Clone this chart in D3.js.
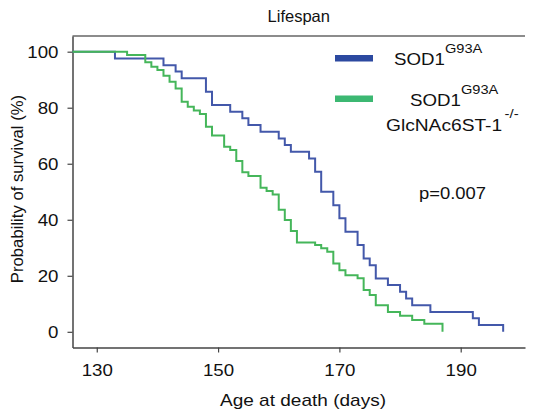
<!DOCTYPE html>
<html>
<head>
<meta charset="utf-8">
<script src="https://cdn.jsdelivr.net/npm/d3@7"></script>
<style>
  body { margin: 0; background: #fff; }
  text { font-family: 'Liberation Sans', Arial, sans-serif; fill: #111; }
</style>
</head>
<body>
<svg id="chart" width="540" height="411"></svg>
<script>
// survival steps (day, % surviving)
const blueDays = [126, 133, 141, 143, 144, 148, 149, 152, 154, 155, 157, 160, 161, 162, 165, 166, 167, 169, 170, 171, 173, 174, 175, 176, 178, 180, 181, 182, 185, 192, 193, 197];
const blueSurv = [100, 97.6, 95.2, 92.9, 90.5, 85.7, 81, 78.6, 76.2, 73.8, 71.4, 69, 66.7, 64.3, 61.9, 57.1, 50, 45.2, 40.5, 35.7, 31, 26.2, 23.8, 19, 16.7, 14.3, 11.9, 9.5, 7.1, 4.8, 2.4, 0];

const greenDays = [126, 135, 138, 139, 140, 141, 142, 143, 144, 145, 146, 147, 148, 149, 151, 152, 153, 154, 155, 157, 158, 159, 160, 161, 162, 163, 166, 167, 168, 169, 170, 171, 173, 174, 175, 176, 178, 180, 182, 184, 187];
const greenSurv = [100, 98.8, 96.2, 94.6, 93.5, 91.4, 89.3, 86.9, 82.1, 80.3, 79, 77.8, 73.2, 70.1, 66.1, 64.9, 61, 57, 55.6, 51.4, 50.3, 49, 43.6, 39.9, 36, 31.9, 31, 29.8, 28.6, 24.4, 22, 20.2, 19.1, 14.9, 13.1, 9.5, 7.1, 5.7, 4.2, 2.9, 0];

const xTicks = [130, 150, 170, 190];
const yTicks = [0, 20, 40, 60, 80, 100];

const blueColor = '#4358aa';
const greenColor = '#45b65a';

// the source figure is a bit wider than tall, so text is drawn stretched sideways
function stretch(sel, sx) {
  sel.each(function () {
    const t = d3.select(this);
    const x0 = +t.attr('x') || 0;
    t.attr('x', x0 / sx).attr('transform', `scale(${sx},1)`);
  });
}

const svg = d3.select('#chart');
const plotLeft = 72.5, plotRight = 525, plotTop = 36, plotBottom = 347.5;

const x = d3.scaleLinear().domain([126, 200.6]).range([plotLeft, plotRight]);
const y = d3.scaleLinear().domain([-5.6, 105.6]).range([plotBottom, plotTop]);

// frame top line
svg.append('line')
  .attr('x1', plotLeft).attr('x2', plotRight)
  .attr('y1', plotTop).attr('y2', plotTop)
  .attr('stroke', '#666').attr('stroke-width', 1.3);

const xAxis = svg.append('g')
  .attr('transform', `translate(0,${plotBottom})`)
  .call(d3.axisBottom(x).tickValues(xTicks).tickSize(5).tickPadding(11).tickSizeOuter(0));
const yAxis = svg.append('g')
  .attr('transform', `translate(${plotLeft},0)`)
  .call(d3.axisLeft(y).tickValues(yTicks).tickSize(5).tickPadding(9).tickSizeOuter(0));

for (const ax of [xAxis, yAxis]) {
  ax.select('.domain').attr('stroke', '#444').attr('stroke-width', 1.5);
  ax.selectAll('.tick line').attr('stroke', '#444').attr('stroke-width', 1.2);
  ax.selectAll('.tick text')
    .attr('font-size', 17)
    .attr('fill', '#111')
    .style('font-family', "'Liberation Sans', Arial, sans-serif")
    .call(stretch, 1.1);
}

const line = d3.line()
  .x(d => x(d[0]))
  .y(d => y(d[1]))
  .curve(d3.curveStepAfter);

svg.append('path')
  .datum(d3.zip(blueDays, blueSurv))
  .attr('fill', 'none')
  .attr('stroke', blueColor)
  .attr('stroke-width', 2)
  .attr('d', line);

svg.append('path')
  .datum(d3.zip(greenDays, greenSurv))
  .attr('fill', 'none')
  .attr('stroke', greenColor)
  .attr('stroke-width', 2)
  .attr('d', line);

// title and axis labels
svg.append('text')
  .attr('x', (plotLeft + plotRight) / 2).attr('y', 22)
  .attr('text-anchor', 'middle').attr('font-size', 16.5)
  .text('Lifespan');

svg.append('text')
  .attr('x', 303).attr('y', 406)
  .attr('text-anchor', 'middle').attr('font-size', 17)
  .text('Age at death (days)')
  .call(stretch, 1.12);

svg.append('text')
  .attr('transform', 'translate(23,189) rotate(-90)')
  .attr('text-anchor', 'middle').attr('font-size', 16.7)
  .text('Probability of survival (%)');

// legend
svg.append('rect')
  .attr('x', 335).attr('y', 55).attr('width', 38).attr('height', 6.5)
  .attr('fill', '#2c49a0');
svg.append('rect')
  .attr('x', 335).attr('y', 95.5).attr('width', 38).attr('height', 6.5)
  .attr('fill', '#3cb872');

const leg1 = svg.append('text').attr('x', 394).attr('y', 65).attr('font-size', 16);
leg1.append('tspan').text('SOD1');
leg1.append('tspan').attr('dy', -12).attr('font-size', 12.5).text('G93A');
leg1.call(stretch, 1.17);

const leg2 = svg.append('text').attr('x', 410).attr('y', 106.5).attr('font-size', 16);
leg2.append('tspan').text('SOD1');
leg2.append('tspan').attr('dy', -12).attr('font-size', 12.5).text('G93A');
leg2.call(stretch, 1.17);

const leg3 = svg.append('text').attr('x', 386).attr('y', 131.5).attr('font-size', 16);
leg3.append('tspan').text('GlcNAc6ST-1');
leg3.append('tspan').attr('dx', 2).attr('dy', -13).attr('font-size', 12.5).text('-/-');
leg3.call(stretch, 1.2);

svg.append('text')
  .attr('x', 419).attr('y', 199)
  .attr('font-size', 16)
  .text('p=0.007')
  .call(stretch, 1.15);
</script>
</body>
</html>
